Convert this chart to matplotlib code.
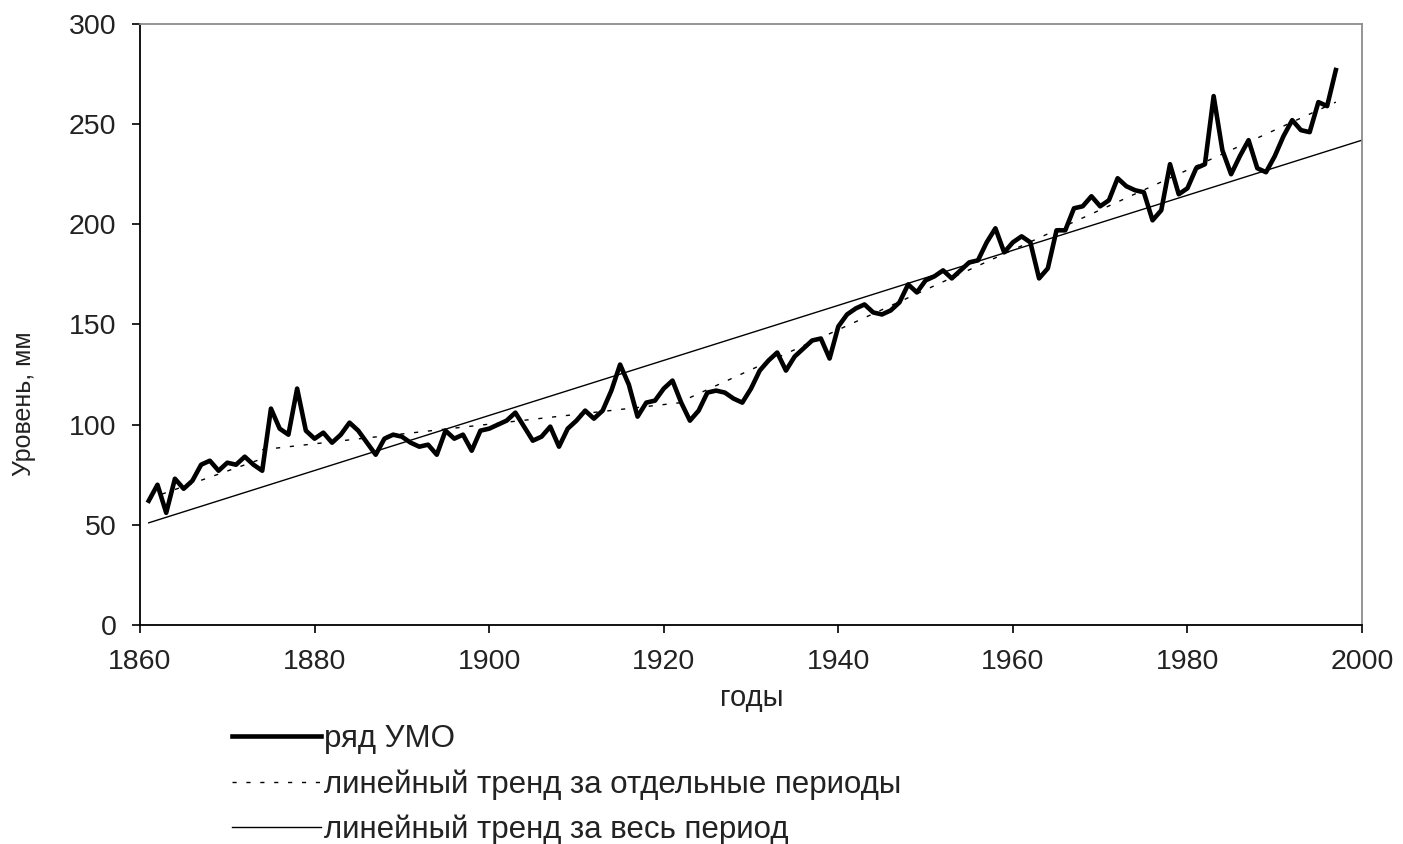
import matplotlib
matplotlib.use("Agg")
import matplotlib.pyplot as plt

plt.rcParams['font.family'] = ['Liberation Sans', 'DejaVu Sans']

# ряд УМО, 1861-1997
years = list(range(1861, 1998))
levels = [62, 70, 56, 73, 68, 72, 80, 82, 77, 81,
          80, 84, 80, 77, 108, 98, 95, 118, 97, 93,
          96, 91, 95, 101, 97, 91, 85, 93, 95, 94,
          91, 89, 90, 85, 97, 93, 95, 87, 97, 98,
          100, 102, 106, 99, 92, 94, 99, 89, 98, 102,
          107, 103, 107, 117, 130, 120, 104, 111, 112, 118,
          122, 111, 102, 107, 116, 117, 116, 113, 111, 118,
          127, 132, 136, 127, 134, 138, 142, 143, 133, 149,
          155, 158, 160, 156, 155, 157, 161, 170, 166, 172,
          174, 177, 173, 177, 181, 182, 191, 198, 186, 191,
          194, 191, 173, 178, 197, 197, 208, 209, 214, 209,
          212, 223, 219, 217, 216, 202, 207, 230, 215, 218,
          228, 230, 264, 237, 225, 234, 242, 228, 226, 234,
          244, 252, 247, 246, 261, 259, 277]

# linear trends for separate periods (start/end of each segment)
period_years = [[1861, 1874], [1874, 1922], [1923, 1997]]
period_values = [[63, 83], [87.5, 111], [113.5, 261]]

# linear trend for the whole period
full_years = [1861, 2000]
full_values = [51, 242]

fig = plt.figure(figsize=(14.03, 8.44), dpi=100)
ax = fig.add_axes([0.0998, 0.2595, 0.8710, 0.7121])

ax.plot(years, levels, color='black', lw=3.3, solid_joinstyle='round',
        label='ряд УМО', zorder=3)
for i, (py, pv) in enumerate(zip(period_years, period_values)):
    ax.plot(py, pv, color='black', lw=1.0, dashes=(3, 7),
            label='линейный тренд за отдельные периоды' if i == 0 else None,
            zorder=2)
ax.plot(full_years, full_values, color='black', lw=1.0,
        label='линейный тренд за весь период', zorder=2)

ax.set_xlim(1860, 2000)
ax.set_ylim(0, 300)
ax.set_xticks(range(1860, 2001, 20))
ax.set_yticks(range(0, 301, 50))
ax.tick_params(axis='both', direction='out', length=6, width=1.2,
               labelsize=20.5, labelcolor='#222222', pad=11)

for side in ('left', 'bottom'):
    ax.spines[side].set_color('black')
    ax.spines[side].set_linewidth(1.3)
for side in ('top', 'right'):
    ax.spines[side].set_color('#8c8c8c')
    ax.spines[side].set_linewidth(1.3)

ax.set_xlabel('годы', fontsize=21, color='#222222')
ax.xaxis.set_label_coords(0.5008, -0.098)
ax.set_ylabel('Уровень, мм', fontsize=18, color='#222222')
ax.yaxis.set_label_coords(-0.085, 0.369)

fig.legend(loc='upper left', bbox_to_anchor=(232 / 1403, 1 - 724 / 844),
           frameon=False, fontsize=22.5, handlelength=2.85, handletextpad=0.08,
           labelspacing=0.48, borderpad=0, borderaxespad=0,
           labelcolor='#222222')

fig.savefig('out.png', dpi=100)
